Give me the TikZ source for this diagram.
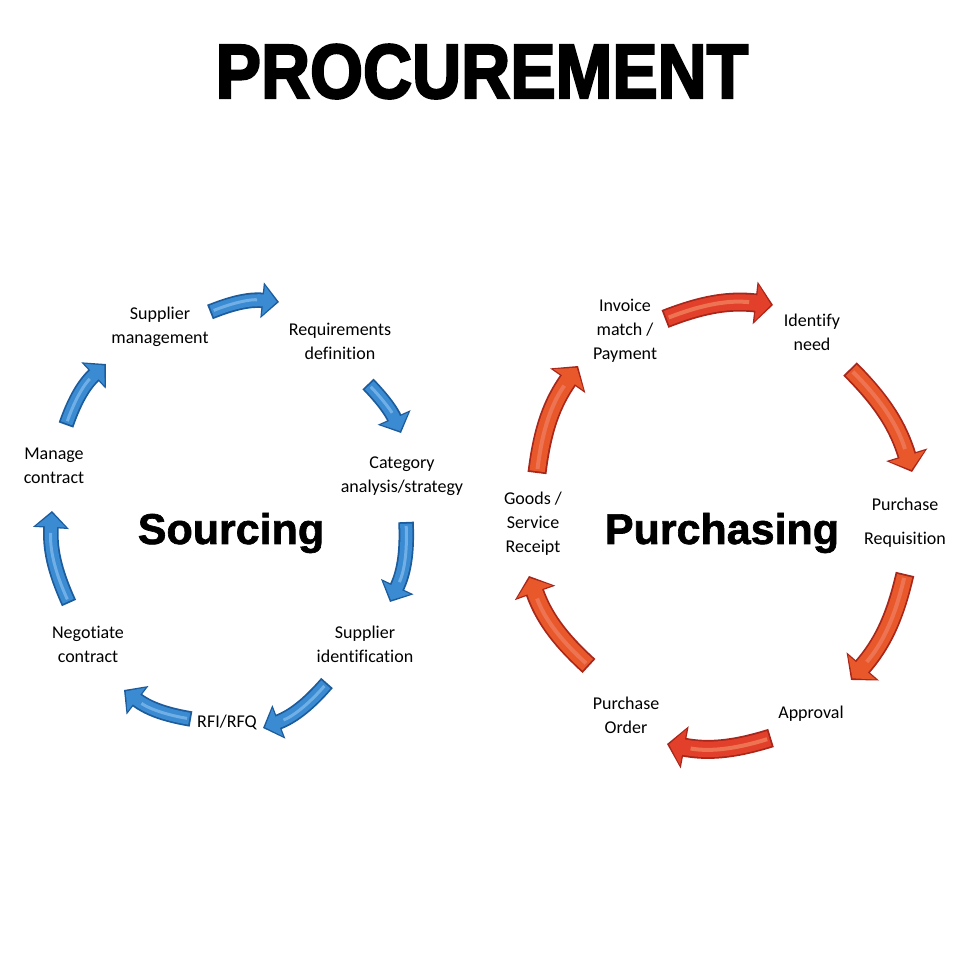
\documentclass[tikz,border=0pt]{standalone}
\usepackage{fontspec}
\setmainfont{Carlito}[Ligatures=NoCommon]
\newfontfamily\headfont{Liberation Sans}[BoldFeatures={FakeBold=3}]
\newfontfamily\wordfont{Liberation Sans}[BoldFeatures={FakeBold=1.5}]
\usetikzlibrary{arrows.meta}
\definecolor{bluefill}{HTML}{3A8BD2}
\definecolor{blueedge}{HTML}{1D5C9C}
\definecolor{blueshine}{HTML}{6FAFE6}
\definecolor{redfill}{HTML}{E2402A}
\definecolor{orangefill}{HTML}{E8582A}
\definecolor{rededge}{HTML}{A8261A}
\definecolor{redshine}{HTML}{EE7352}
\tikzset{
  lab/.style={font=\fontsize{18}{24}\selectfont, align=center, inner sep=0pt},
  bigtitle/.style={font=\wordfont\bfseries\fontsize{43}{43}\selectfont, inner sep=0pt, anchor=base},
  blueouter/.style={line width=15.5pt, draw=blueedge, -{Triangle[length=17pt,width=35pt]}},
  blueinner/.style={line width=12pt, draw=bluefill, shorten <=1.8pt, shorten >=2.2pt, -{Triangle[length=13.5pt,width=29pt]}},
  blueline/.style={line width=3pt, draw=blueshine, shorten <=4pt, shorten >=22pt},
  redouter/.style={line width=19pt, draw=rededge, -{Triangle[length=18pt,width=42pt]}},
  redinner/.style={line width=15.5pt, draw=redfill, shorten <=1.8pt, shorten >=2.2pt, -{Triangle[length=14.5pt,width=36pt]}},
  orangeinner/.style={line width=15.5pt, draw=orangefill, shorten <=1.8pt, shorten >=2.2pt, -{Triangle[length=14.5pt,width=36pt]}},
  redline/.style={line width=4pt, draw=redshine, shorten <=4pt, shorten >=24pt},
}
\newcommand{\bigarrow}[5]{% outer, inner, shine, start, end ; bend given via \bendval
  \draw[#1] (#4) to[bend left=\bendval] (#5);
  \draw[#2] (#4) to[bend left=\bendval] (#5);
  \draw[#3] (#4) to[bend left=\bendval] (#5);}
\def\bendval{18}
\begin{document}
\begin{tikzpicture}[x=1pt,y=1pt]
\useasboundingbox[fill=white] (0,0) rectangle (960,960);

% title
\node (title) at (482,862) [anchor=base, inner sep=0pt] {\scalebox{1}[1.13]{\headfont\bfseries\fontsize{68}{68}\selectfont PROCUREMENT}};

% centre words
\node[bigtitle] (sourcing) at (231,416) {Sourcing};
\node[bigtitle] (purchasing) at (722,416) {Purchasing};

% sourcing labels
\node[lab] (supmgmt) at (160,633) {Supplier\\management};
\node[lab] (reqdef) at (340,619) {Requirements\\definition};
\node[lab] (catana) at (402,484) {Category\\analysis/strategy};
\node[lab] (supid) at (365,316) {Supplier\\identification};
\node[lab] (rfi) at (227,238) {RFI/RFQ};
\node[lab] (negot) at (88,316) {Negotiate\\contract};
\node[lab] (manage) at (54,494) {Manage\\contract};

% purchasing labels
\node[lab] (invoice) at (625,629) {Invoice\\match /\\Payment};
\node[lab] (identify) at (812,628) {Identify\\need};
\node[lab] (preq) at (905,437) {Purchase\\[10pt]Requisition};
\node[lab] (approval) at (811,246) {Approval};
\node[lab] (porder) at (626,245) {Purchase\\Order};
\node[lab] (goods) at (533,436) {Goods /\\Service\\Receipt};

% sourcing arrow ends
\coordinate (b1s) at (210,648); \coordinate (b1e) at (279,658);
\coordinate (b2s) at (368,576); \coordinate (b2e) at (401,527);
\coordinate (b3s) at (406,438); \coordinate (b3e) at (390,358);
\coordinate (b4s) at (327,277); \coordinate (b4e) at (263,232);
\coordinate (b5s) at (191,241); \coordinate (b5e) at (124,270);
\coordinate (b6s) at (69,357);  \coordinate (b6e) at (52,449);
\coordinate (b7s) at (66,535);  \coordinate (b7e) at (106,596);

\def\bendval{14}
\bigarrow{blueouter}{blueinner}{blueline}{b1s}{b1e}
\def\bendval{10}
\bigarrow{blueouter}{blueinner}{blueline}{b2s}{b2e}
\def\bendval{14}
\bigarrow{blueouter}{blueinner}{blueline}{b3s}{b3e}
\bigarrow{blueouter}{blueinner}{blueline}{b4s}{b4e}
\bigarrow{blueouter}{blueinner}{blueline}{b5s}{b5e}
\bigarrow{blueouter}{blueinner}{blueline}{b6s}{b6e}
\bigarrow{blueouter}{blueinner}{blueline}{b7s}{b7e}

% purchasing arrow ends
\coordinate (r1s) at (665,641); \coordinate (r1e) at (773,655);
\coordinate (r2s) at (850,591); \coordinate (r2e) at (912,488);
\coordinate (r3s) at (905,386); \coordinate (r3e) at (851,280);
\coordinate (r4s) at (771,222); \coordinate (r4e) at (667,216);
\coordinate (r5s) at (589,294); \coordinate (r5e) at (529,384);
\coordinate (r6s) at (537,487); \coordinate (r6e) at (578,594);

\def\bendval{14}
\bigarrow{redouter}{redinner}{redline}{r1s}{r1e}
\bigarrow{redouter}{orangeinner}{redline}{r2s}{r2e}
\bigarrow{redouter}{orangeinner}{redline}{r3s}{r3e}
\bigarrow{redouter}{redinner}{redline}{r4s}{r4e}
\bigarrow{redouter}{orangeinner}{redline}{r5s}{r5e}
\bigarrow{redouter}{orangeinner}{redline}{r6s}{r6e}
\end{tikzpicture}
\end{document}
